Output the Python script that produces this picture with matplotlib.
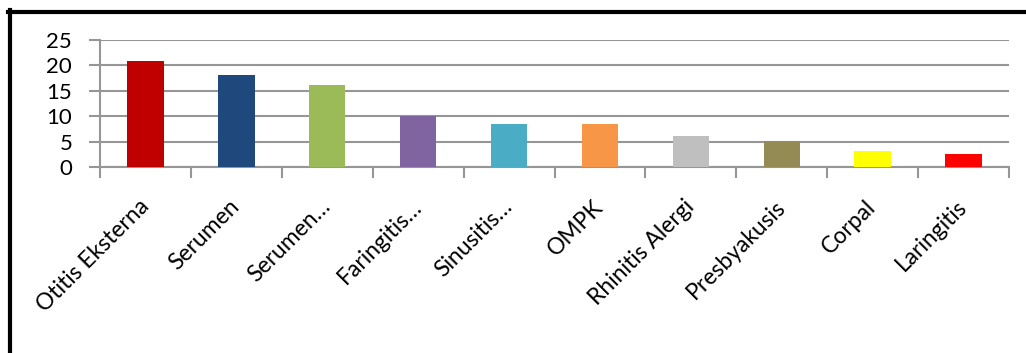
import matplotlib
matplotlib.use("Agg")
import matplotlib.pyplot as plt
from matplotlib.lines import Line2D

categories = ["Otitis Eksterna", "Serumen", "Serumen…", "Faringitis…", "Sinusitis…",
              "OMPK", "Rhinitis Alergi", "Presbyakusis", "Corpal", "Laringitis"]
values = [20.8, 18.1, 16.2, 10.0, 8.5, 8.5, 6.2, 5.2, 3.2, 2.6]
colors = ["#C00000", "#1F497D", "#9BBB59", "#8064A2", "#4BACC6",
          "#F79646", "#BFBFBF", "#948A54", "#FFFF00", "#FF0000"]
yticks = [0, 5, 10, 15, 20, 25]

plt.rcParams['font.family'] = ['Lato', 'DejaVu Sans']

fig = plt.figure(figsize=(10.26, 3.53), dpi=100)
ax = fig.add_axes([100/1026, 1-167.3/353, 909/1026, 127.3/353])

x = list(range(len(categories)))
ax.bar(x, values, width=0.4, color=colors, zorder=3)
ax.set_xlim(-0.5, len(categories) - 0.5)
ax.set_ylim(0, 25)
ax.set_yticks(yticks)
ax.set_yticklabels([str(t) for t in yticks], fontsize=16)
ax.yaxis.grid(True, color="#969696", linewidth=1.5, zorder=0)
ax.set_axisbelow(True)

ax.set_xticks([i - 0.5 for i in range(len(categories) + 1)])
ax.set_xticklabels([])
ax.set_xticks(x, minor=True)
ax.set_xticklabels(categories, minor=True, rotation=45, ha='right',
                   va='center', rotation_mode='anchor', fontsize=16.5)
ax.tick_params(axis='x', which='minor', length=0, pad=26)
ax.tick_params(axis='x', which='major', length=8, width=1.5, color="#969696", direction='out')
ax.tick_params(axis='y', length=8, width=1.5, color="#969696", direction='out', pad=12)

for s in ['top', 'right']:
    ax.spines[s].set_visible(False)
for s in ['left', 'bottom']:
    ax.spines[s].set_color("#969696")
    ax.spines[s].set_linewidth(1.5)

# outer black border (left and top)
fig.add_artist(Line2D([9.5/1026, 9.5/1026], [0, 1 - 10/353], color='black', linewidth=3,
                      transform=fig.transFigure))
fig.add_artist(Line2D([8/1026, 1], [1 - 11.5/353, 1 - 11.5/353], color='black', linewidth=3,
                      transform=fig.transFigure))

fig.savefig("out.png", dpi=100)
